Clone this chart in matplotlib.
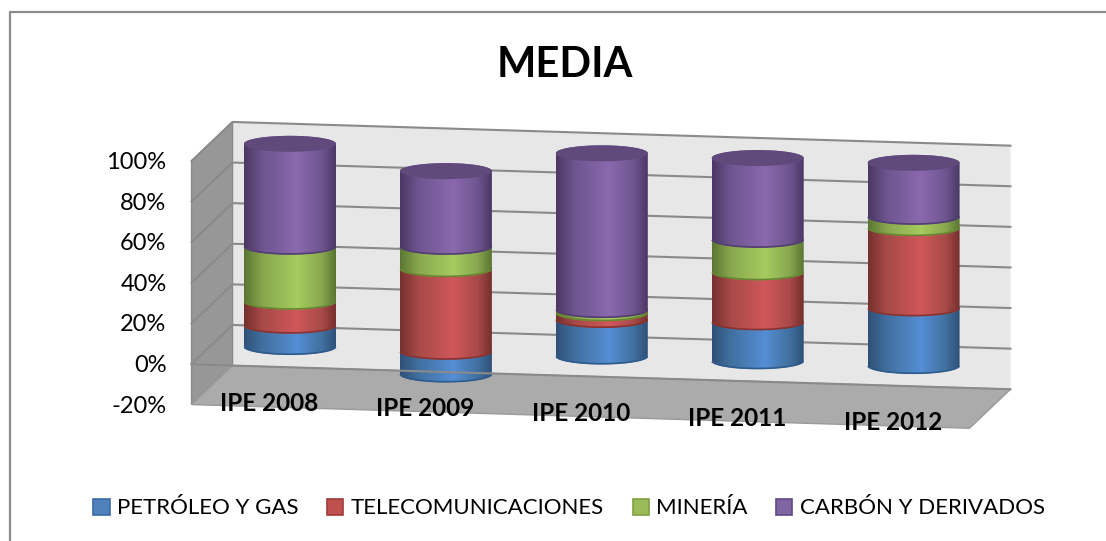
# -*- coding: utf-8 -*-
#%% imports
import numpy as np
import matplotlib
matplotlib.use('Agg')
import matplotlib.pyplot as plt
from matplotlib.colors import LinearSegmentedColormap
from matplotlib.patches import Patch, Polygon

plt.rcParams['font.family'] = ['Lato', 'DejaVu Sans']

#%% datos
categorias = ['IPE 2008', 'IPE 2009', 'IPE 2010', 'IPE 2011', 'IPE 2012']
petroleo = [10.5, -11.2, 18.0, 19.2, 28.4]
telecom = [11.8, 40.7, 3.3, 24.6, 39.5]
mineria = [27.1, 11.0, 1.6, 16.0, 5.6]
carbon = [50.6, 37.2, 77.1, 40.2, 26.5]
nombres = ['PETRÓLEO Y GAS', 'TELECOMUNICACIONES', 'MINERÍA', 'CARBÓN Y DERIVADOS']
marcas_y = [-20, 0, 20, 40, 60, 80, 100]
series = [petroleo, telecom, mineria, carbon]

# oscuro, medio, claro, borde inferior
colores = [('#2f5178', '#41709f', '#558ed5', '#2f5a8c'),
           ('#76302e', '#a84a48', '#d0575a', '#873331'),
           ('#5b7632', '#88a74f', '#a6cb5f', '#688632'),
           ('#4a3865', '#6e5590', '#8a69ad', '#523e70')]
color_tapa = '#5f4a7b'
color_leyenda = ['#4f81bd', '#c0504d', '#9bbb59', '#8064a2']
bordes_leyenda = ['#3a6ba5', '#a03c3a', '#7f9f42', '#644a86']

#%% proyeccion de (categoria, valor, fondo) a pixeles de la figura
PX_CAT = 155.9
PX_VAL = 2.03
CAIDA_CAT = 4.75
FONDO_X = 41.0
FONDO_Y = 39.0
RADIO_X = 46.0
RADIO_Y = 8.0


def proy(cat, val, fondo=0.5):
    x = 290 + PX_CAT * cat + FONDO_X * (fondo - 0.5)
    y = 348 + CAIDA_CAT * cat - PX_VAL * val - FONDO_Y * (fondo - 0.47)
    return x, y


fig = plt.figure(figsize=(11.06, 5.41), dpi=100)
ax = fig.add_axes([0, 0, 1, 1])
ax.set_xlim(0, 1106)
ax.set_ylim(541, 0)
ax.set_autoscale_on(False)
ax.axis('off')

# marco del grafico: solo se ve arriba y a la izquierda
ax.plot([9.5, 9.5, 1106], [541, 11.5, 11.5], color='#8c8c8c', lw=1.6, zorder=1)

#%% paredes y suelo
c0, c1 = -0.5, 4.49
vmin, vmax = marcas_y[0], marcas_y[-1]
gris = '#8a8a8a'
ax.add_patch(Polygon([proy(c0, vmin, 1), proy(c1, vmin, 1), proy(c1, vmax, 1), proy(c0, vmax, 1)],
                     fc='#e7e7e7', ec='none', zorder=2))
ax.add_patch(Polygon([proy(c0, vmin, 0), proy(c0, vmin, 1), proy(c0, vmax, 1), proy(c0, vmax, 0)],
                     fc='#979797', ec='#8a8a8a', lw=1, zorder=2))
ax.add_patch(Polygon([proy(c0, vmin, 0), proy(c1, vmin, 0), proy(c1, vmin, 1), proy(c0, vmin, 1)],
                     fc='#ababab', ec='#9a9a9a', lw=1, zorder=2))
for v in marcas_y[1:]:
    p = [proy(c0, v, 0), proy(c0, v, 1), proy(c1, v, 1)]
    ax.plot([q[0] for q in p], [q[1] for q in p], color=gris, lw=1.5, zorder=3)

# la linea del fondo del suelo pasa por encima de los cilindros
p0 = proy(c0 - FONDO_X / PX_CAT, vmin, 1)
p1 = proy(c1, vmin, 1)
ax.plot([p0[0], p1[0]], [p0[1], p1[1]], color=gris, lw=1.5, zorder=30)

#%% cilindros
ang = np.linspace(0, np.pi, 60)


def tramo(i, v0, v1, cols, z):
    xc, y0 = proy(i, v0)
    _, y1 = proy(i, v1)
    # arco delantero abajo, arco trasero arriba
    xs_b = xc - RADIO_X * np.cos(ang)
    ys_b = y0 + RADIO_Y * np.sin(ang)
    xs_t = xc + RADIO_X * np.cos(ang)
    ys_t = y1 - RADIO_Y * np.sin(ang)
    borde = np.column_stack([np.r_[xs_b, xs_t], np.r_[ys_b, ys_t]])
    pat = Polygon(borde, fc='none', ec='none', transform=ax.transData, zorder=z)
    ax.add_patch(pat)
    cmap = LinearSegmentedColormap.from_list('c', [(0, cols[0]), (0.2, cols[1]), (0.58, cols[2]),
                                                   (0.85, cols[1]), (1, cols[0])])
    grad = np.linspace(0, 1, 128).reshape(1, -1)
    top = min(ys_t) - 1
    bot = max(ys_b) + 1
    im = ax.imshow(grad, cmap=cmap, extent=(xc - RADIO_X, xc + RADIO_X, bot, top),
                   aspect='auto', interpolation='bilinear', zorder=z)
    im.set_clip_path(pat)
    # ribete oscuro del borde inferior, sin salirse del cilindro
    ax.plot(xs_b[2:-2], ys_b[2:-2] - 0.6, color=cols[3], lw=1.2, zorder=z + 0.1, solid_capstyle='butt')


for i in range(len(categorias)):
    z = 5
    # el negativo va primero, por debajo de cero
    for s, cols in zip(series, colores):
        if s[i] < 0:
            tramo(i, s[i], 0, cols, z)
            z += 1
    base = 0
    for s, cols in zip(series, colores):
        if s[i] >= 0:
            tramo(i, base, base + s[i], cols, z)
            base += s[i]
            z += 1
    xc, yt = proy(i, base)
    t = np.linspace(0, 2 * np.pi, 120)
    ax.fill(xc + RADIO_X * np.cos(t), yt + RADIO_Y * np.sin(t), color=color_tapa, lw=0, zorder=z)

#%% textos
for v in marcas_y:
    x, y = proy(c0, v, 0)
    ax.text(x - 25, y + 1.5, f'{v}%', ha='right', va='center', fontsize=17, color='black', zorder=40)

for i, nombre in enumerate(categorias):
    x, y = proy(i, vmin, 0)
    ax.text(x, y - 3, nombre, ha='center', va='center', fontsize=17.5, fontweight='bold',
            color='black', zorder=40)

ax.text(564.5, 65, 'MEDIA', ha='center', va='center', fontsize=30, fontweight='bold', color='black', zorder=40)

handles = [Patch(fc=c, ec=e, lw=1.2, label=n) for c, e, n in zip(color_leyenda, bordes_leyenda, nombres)]
ax.legend(handles=handles, ncol=4, loc='center', bbox_to_anchor=(569, 508.5), bbox_transform=ax.transData,
          frameon=False, fontsize=16, handlelength=0.73, handleheight=0.73, handletextpad=0.32,
          columnspacing=1.3, borderpad=0, borderaxespad=0)

fig.savefig('out.png', dpi=100, facecolor='white')
